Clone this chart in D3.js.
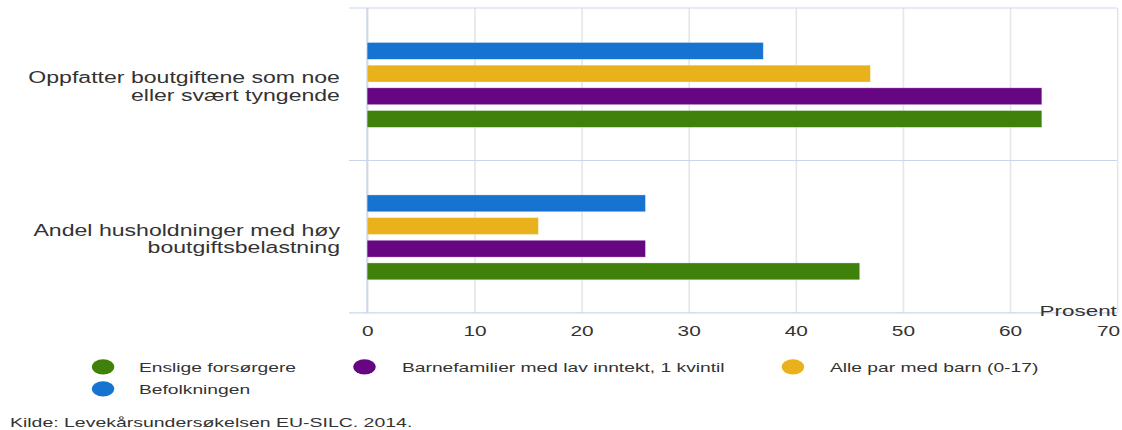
<!DOCTYPE html>
<html>
<head>
<meta charset="utf-8">
<script src="https://cdn.jsdelivr.net/npm/d3@7"></script>
<style>
  html, body { margin: 0; padding: 0; background: #fff; }
  svg { display: block; font-family: "Liberation Sans", Arial, Helvetica, sans-serif; }
</style>
</head>
<body>
<svg id="chart"></svg>
<script>
// ---- data ----
const categories = ["Oppfatter boutgiftene som noe eller svært tyngende", "Andel husholdninger med høy boutgiftsbelastning"];
const categoryLines = [["Oppfatter boutgiftene som noe", "eller svært tyngende"], ["Andel husholdninger med høy", "boutgiftsbelastning"]];
const seriesNames = ["Enslige forsørgere", "Barnefamilier med lav inntekt, 1 kvintil", "Alle par med barn (0-17)", "Befolkningen"];
const enslige = [63, 46];
const barnefamilier = [63, 26];
const allePar = [47, 16];
const befolkningen = [37, 26];
const seriesValues = [enslige, barnefamilier, allePar, befolkningen];
const seriesColors = ["#3f810a", "#670682", "#e9b11c", "#1673d0"];
const xTicks = [0, 10, 20, 30, 40, 50, 60, 70];
const axisTitle = "Prosent";
const source = "Kilde: Levekårsundersøkelsen EU-SILC. 2014.";

// ---- layout (internal coordinate system, stretched to 1122x430) ----
const W = 700, H = 391;
const svg = d3.select("#chart")
  .attr("width", 1122).attr("height", 430)
  .attr("viewBox", `0 0 ${W} ${H}`)
  .attr("preserveAspectRatio", "none");

const plotTop = 7.3, plotBottom = 284.5, plotLeft = 229, plotRight = 696.8;
const tickLeft = 217.7;

const x = d3.scaleLinear().domain([0, 70]).range([plotLeft, plotRight]);
const y = d3.scaleBand().domain(categories).range([plotTop, plotBottom]);
const bw = y.bandwidth();
// display order top to bottom is reverse of legend order
const displayOrder = seriesNames.slice().reverse();
const sub = d3.scaleBand().domain(displayOrder)
  .range([0.226 * bw, 0.783 * bw]).paddingInner(0.256).paddingOuter(0);

// vertical gridlines + tick labels
const xAxis = d3.axisBottom(x).tickValues(xTicks).tickFormat(d3.format("d"))
  .tickSize(-(plotBottom - plotTop)).tickPadding(12);
const gx = svg.append("g").attr("transform", `translate(0,${plotBottom})`).call(xAxis);
gx.select(".domain").remove();
gx.selectAll(".tick line").attr("stroke", "#e6e6e6").attr("stroke-width", 1);
gx.selectAll(".tick text").attr("fill", "#333").attr("font-size", 13)
  .attr("font-family", "'Liberation Sans', Arial, sans-serif");
// last label justified inside the chart, as in the reference
gx.selectAll(".tick text").filter(d => d === xTicks[xTicks.length - 1])
  .attr("text-anchor", "end").attr("x", 1.5);

// category boundary lines
const bounds = [plotTop].concat(categories.map(c => y(c) + bw));
svg.append("g").selectAll("line").data(bounds).join("line")
  .attr("x1", tickLeft).attr("x2", plotRight)
  .attr("y1", d => d).attr("y2", d => d)
  .attr("stroke", "#ccd6eb").attr("stroke-width", 1);

// y axis line
svg.append("line")
  .attr("x1", plotLeft).attr("x2", plotLeft)
  .attr("y1", plotTop).attr("y2", plotBottom)
  .attr("stroke", "#ccd6eb").attr("stroke-width", 1);

// bars
const barData = [];
seriesNames.forEach((s, si) => {
  categories.forEach((c, ci) => {
    barData.push({ series: s, cat: c, value: seriesValues[si][ci], color: seriesColors[si] });
  });
});
svg.append("g").selectAll("rect").data(barData).join("rect")
  .attr("x", x(0))
  .attr("y", d => y(d.cat) + sub(d.series))
  .attr("width", d => x(d.value) - x(0))
  .attr("height", sub.bandwidth())
  .attr("fill", d => d.color)
  .attr("stroke", "#fff").attr("stroke-opacity", 0.5).attr("stroke-width", 0.6);

// category labels
const labelG = svg.append("g");
categories.forEach((c, i) => {
  const cy = y(c) + bw / 2;
  const t = labelG.append("text")
    .attr("text-anchor", "end").attr("fill", "#333").attr("font-size", 14.4);
  categoryLines[i].forEach((line, li) => {
    t.append("tspan").attr("x", 212.1).attr("y", cy - 1 + li * 16).text(line);
  });
});

// axis title
svg.append("text").attr("x", plotRight).attr("y", 287.5)
  .attr("text-anchor", "end").attr("fill", "#333").attr("font-size", 14)
  .text(axisTitle);

// legend
const legendPos = [
  { cx: 64.3, tx: 86.7, cy: 333.6 },
  { cx: 227.4, tx: 250.8, cy: 333.6 },
  { cx: 494.7, tx: 517.8, cy: 333.6 },
  { cx: 64.3, tx: 86.7, cy: 353.6 }
];
const lg = svg.append("g").selectAll("g").data(seriesNames).join("g");
lg.append("circle")
  .attr("cx", (d, i) => legendPos[i].cx).attr("cy", (d, i) => legendPos[i].cy)
  .attr("r", 7).attr("fill", (d, i) => seriesColors[i]);
lg.append("text")
  .attr("x", (d, i) => legendPos[i].tx).attr("y", (d, i) => legendPos[i].cy + 4.3)
  .attr("fill", "#333").attr("font-size", 12)
  .text(d => d);

// source
svg.append("text").attr("x", 6.2).attr("y", 388)
  .attr("fill", "#333").attr("font-size", 12.15).text(source);
</script>
</body>
</html>
